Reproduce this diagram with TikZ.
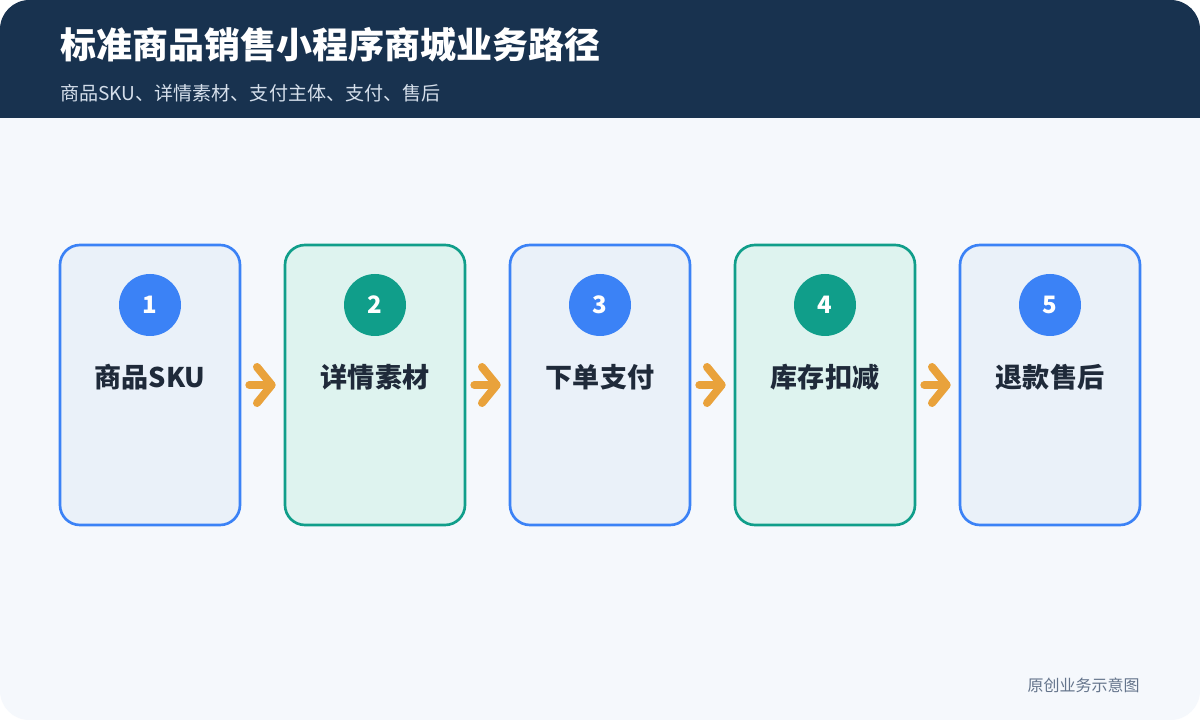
\documentclass[tikz,border=0pt]{standalone}
\usepackage{fontspec}
\setmainfont{Noto Sans CJK SC}
\usepackage{xcolor}
\usepackage{tikz}
\usetikzlibrary{arrows.meta}

\definecolor{headblue}{HTML}{18324F}
\definecolor{pagebg}{HTML}{F5F8FC}
\definecolor{subgray}{HTML}{D5DFEB}
\definecolor{cardblue}{HTML}{3B82F6}
\definecolor{fillblue}{HTML}{EAF1F9}
\definecolor{cardgreen}{HTML}{109E8A}
\definecolor{fillgreen}{HTML}{DEF3EF}
\definecolor{labeldark}{HTML}{1F2A3A}
\definecolor{footgray}{HTML}{64748B}
\definecolor{flowgold}{HTML}{E9A23B}

\tikzset{
  stepcard/.style={draw, line width=2pt, rounded corners=15pt, minimum width=135pt, minimum height=210pt},
  bluecard/.style={stepcard, draw=cardblue, fill=fillblue},
  greencard/.style={stepcard, draw=cardgreen, fill=fillgreen},
  stepnum/.style={circle, minimum size=46.5pt, inner sep=0pt, text=white, font=\bfseries\fontsize{18}{18}\selectfont},
  steplabel/.style={text=labeldark, font=\bfseries\fontsize{20.3}{21}\selectfont},
  flowarrow/.style={draw=flowgold, line width=6pt, line cap=round,
    -{Straight Barb[round, length=11pt, width=27pt]}, shorten <=6pt, shorten >=6pt}
}

\begin{document}
\begin{tikzpicture}[x=0.75pt, y=-0.75pt]
\useasboundingbox (0,0) rectangle (1200,720);
\fill [white] (0,0) rectangle (1200,720);
\fill [pagebg, rounded corners=22pt] (0,0) rectangle (1200,720);
\begin{scope}
\clip [rounded corners=22pt] (0,0) rectangle (1200,720);
\fill [headblue] (0,0) rectangle (1200,118);
\end{scope}

% header
\node [anchor=west, text=white, font=\bfseries\fontsize{27}{29}\selectfont, inner sep=0pt] (title) at (60,45) {标准商品销售小程序商城业务路径};
\node [anchor=west, text=subgray, font=\fontsize{14.3}{16}\selectfont, inner sep=0pt] (subtitle) at (60,93) {商品SKU、详情素材、支付主体、支付、售后};

% steps
\node [bluecard] (sku) at (150,385) {};
\node [greencard] (detail) at (375,385) {};
\node [bluecard] (order) at (600,385) {};
\node [greencard] (stock) at (825,385) {};
\node [bluecard] (refund) at (1050,385) {};

\node [stepnum, fill=cardblue] (n1) at (150,305) {1};
\node [stepnum, fill=cardgreen] (n2) at (375,305) {2};
\node [stepnum, fill=cardblue] (n3) at (600,305) {3};
\node [stepnum, fill=cardgreen] (n4) at (825,305) {4};
\node [stepnum, fill=cardblue] (n5) at (1050,305) {5};

\node [steplabel] (l1) at (150,377) {商品SKU};
\node [steplabel] (l2) at (375,377) {详情素材};
\node [steplabel] (l3) at (600,377) {下单支付};
\node [steplabel] (l4) at (825,377) {库存扣减};
\node [steplabel] (l5) at (1050,377) {退款售后};

% connectors
\draw [flowarrow] (sku.east) -- (detail.west);
\draw [flowarrow] (detail.east) -- (order.west);
\draw [flowarrow] (order.east) -- (stock.west);
\draw [flowarrow] (stock.east) -- (refund.west);

\node [anchor=east, text=footgray, font=\fontsize{12}{13}\selectfont, inner sep=0pt] (footer) at (1140,685) {原创业务示意图};
\end{tikzpicture}
\end{document}
